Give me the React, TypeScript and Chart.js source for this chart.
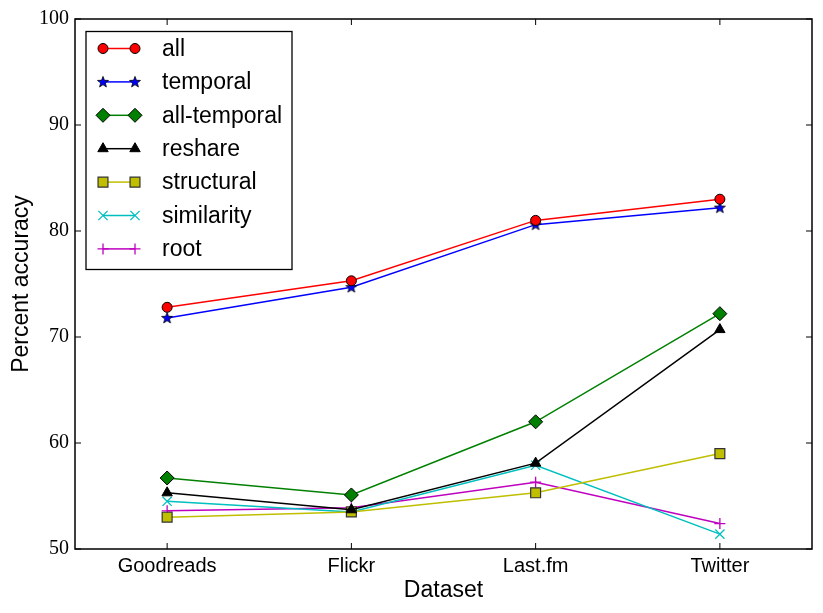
import React, { useEffect, useRef } from 'react'
import { Chart, registerables } from 'chart.js'
import { drawPoint } from 'chart.js/helpers'

Chart.register(...registerables)

// data
const datasetNames = ['Goodreads', 'Flickr', 'Last.fm', 'Twitter']
const allVals = [72.8, 75.3, 81.0, 83.0]
const temporalVals = [71.8, 74.7, 80.6, 82.2]
const allTemporalVals = [56.7, 55.1, 62.0, 72.2]
const reshareVals = [55.3, 53.7, 58.1, 70.7]
const structuralVals = [53.0, 53.5, 55.3, 59.0]
const similarityVals = [54.5, 53.5, 57.9, 51.4]
const rootVals = [53.6, 53.9, 56.3, 52.4]
const yTicks = [50, 60, 70, 80, 90, 100]

const SANS = '"Liberation Sans", Arial, sans-serif'
const SERIF = '"Liberation Serif", "DejaVu Serif", serif'

// matplotlib-like filled star marker
const makeStar = (fill: string) => {
  const c = document.createElement('canvas')
  c.width = 14
  c.height = 14
  const ctx = c.getContext('2d')!
  const cx = 7, cy = 7.3, R = 5.8, r = 2.4
  ctx.beginPath()
  for (let i = 0; i < 10; i++) {
    const rad = i % 2 === 0 ? R : r
    const a = -Math.PI / 2 + (i * Math.PI) / 5
    const px = cx + rad * Math.cos(a)
    const py = cy + rad * Math.sin(a)
    if (i === 0) ctx.moveTo(px, py)
    else ctx.lineTo(px, py)
  }
  ctx.closePath()
  ctx.fillStyle = fill
  ctx.fill()
  ctx.lineWidth = 0.8
  ctx.strokeStyle = '#000'
  ctx.stroke()
  return c
}

interface SeriesDef {
  label: string
  values: number[]
  color: string
  style: any
  radius: number
  edge: string
  edgeWidth: number
}

const buildSeries = (): SeriesDef[] => [
  { label: 'all', values: allVals, color: '#ff0000', style: 'circle', radius: 5, edge: '#000', edgeWidth: 1 },
  { label: 'temporal', values: temporalVals, color: '#0000ff', style: makeStar('#0000ff'), radius: 6, edge: '#000', edgeWidth: 1 },
  { label: 'all-temporal', values: allTemporalVals, color: '#008000', style: 'rectRot', radius: 7, edge: '#000', edgeWidth: 1 },
  { label: 'reshare', values: reshareVals, color: '#000000', style: 'triangle', radius: 6, edge: '#000', edgeWidth: 1 },
  { label: 'structural', values: structuralVals, color: '#bfbf00', style: 'rect', radius: 7, edge: '#333', edgeWidth: 1.2 },
  { label: 'similarity', values: similarityVals, color: '#00bfbf', style: 'crossRot', radius: 6.5, edge: '#00bfbf', edgeWidth: 1.3 },
  { label: 'root', values: rootVals, color: '#bf00bf', style: 'cross', radius: 5.5, edge: '#bf00bf', edgeWidth: 1.3 },
]

// frame with inward ticks on all four sides, plus the legend box
const framePlugin = (series: SeriesDef[]) => ({
  id: 'mplFrame',
  afterDatasetsDraw(chart: any) {
    const { ctx, chartArea: a, scales } = chart
    ctx.save()
    ctx.strokeStyle = '#000'
    ctx.lineWidth = 1.5
    ctx.strokeRect(a.left, a.top, a.right - a.left, a.bottom - a.top)
    ctx.lineWidth = 1
    ctx.beginPath()
    yTicks.forEach((v) => {
      const y = scales.y.getPixelForValue(v)
      ctx.moveTo(a.left, y)
      ctx.lineTo(a.left + 6, y)
      ctx.moveTo(a.right, y)
      ctx.lineTo(a.right - 6, y)
    })
    datasetNames.forEach((_, i) => {
      const x = scales.x.getPixelForValue(i)
      ctx.moveTo(x, a.bottom)
      ctx.lineTo(x, a.bottom - 6)
      ctx.moveTo(x, a.top)
      ctx.lineTo(x, a.top + 6)
    })
    ctx.stroke()

    // legend
    const bx = a.left + 11
    const by = a.top + 12.5
    const bw = 206
    const bh = 238
    ctx.fillStyle = '#fff'
    ctx.fillRect(bx, by, bw, bh)
    ctx.lineWidth = 1.3
    ctx.strokeStyle = '#000'
    ctx.strokeRect(bx, by, bw, bh)
    ctx.font = `23px ${SANS}`
    ctx.textBaseline = 'middle'
    series.forEach((s, i) => {
      const y = by + 17 + i * 33.4
      const x1 = bx + 17
      const x2 = bx + 49
      ctx.strokeStyle = s.color
      ctx.lineWidth = 1.5
      ctx.beginPath()
      ctx.moveTo(x1, y)
      ctx.lineTo(x2, y)
      ctx.stroke()
      ;[x1, x2].forEach((x) => {
        ctx.fillStyle = s.color
        ctx.strokeStyle = s.edge
        ctx.lineWidth = s.edgeWidth
        drawPoint(ctx, { pointStyle: s.style, rotation: 0, radius: s.radius, borderWidth: s.edgeWidth }, x, y)
      })
      ctx.fillStyle = '#000'
      ctx.fillText(s.label, bx + 76, y + 1)
    })
    ctx.restore()
  },
})

export default function App() {
  const canvasRef = useRef<HTMLCanvasElement>(null)

  useEffect(() => {
    document.body.style.margin = '0'
    if (!canvasRef.current) return
    const series = buildSeries()

    const chart = new Chart(canvasRef.current, {
      type: 'line',
      data: {
        datasets: series.map((s) => ({
          label: s.label,
          data: s.values.map((v, i) => ({ x: i, y: v })),
          borderColor: s.color,
          backgroundColor: s.color,
          borderWidth: 1.5,
          pointStyle: s.style,
          pointRadius: s.radius,
          pointBackgroundColor: s.color,
          pointBorderColor: s.edge,
          pointBorderWidth: s.edgeWidth,
          tension: 0,
          fill: false,
        })),
      },
      options: {
        animation: false,
        responsive: false,
        devicePixelRatio: 1,
        layout: { padding: { top: 19, right: 11, left: 0, bottom: 0 } },
        plugins: { legend: { display: false }, tooltip: { enabled: false } },
        scales: {
          x: {
            type: 'linear',
            min: -0.5,
            max: 3.5,
            grid: { display: false, drawTicks: false },
            border: { display: false },
            afterBuildTicks: (scale: any) => {
              scale.ticks = datasetNames.map((_, i) => ({ value: i }))
            },
            afterFit: (scale: any) => {
              scale.height = 64
            },
            ticks: {
              color: '#000',
              padding: 5,
              maxRotation: 0,
              autoSkip: false,
              font: { family: SANS, size: 20 },
              callback: (v: any) => datasetNames[v] ?? '',
            },
            title: {
              display: true,
              text: 'Dataset',
              color: '#000',
              padding: { top: 0, bottom: 9 },
              font: { family: SANS, size: 23 },
            },
          },
          y: {
            min: 50,
            max: 100,
            grid: { display: false, drawTicks: false },
            border: { display: false },
            afterBuildTicks: (scale: any) => {
              scale.ticks = yTicks.map((v) => ({ value: v }))
            },
            afterFit: (scale: any) => {
              scale.width = 75
            },
            ticks: {
              color: '#000',
              padding: 6,
              font: { family: SERIF, size: 20 },
            },
            title: {
              display: true,
              text: 'Percent accuracy',
              color: '#000',
              padding: { top: 8, bottom: 0 },
              font: { family: SANS, size: 23 },
            },
          },
        },
      },
      plugins: [framePlugin(series)],
    })

    return () => chart.destroy()
  }, [])

  return (
    <div style={{ width: 823, height: 613, background: '#fff' }}>
      <canvas ref={canvasRef} width={823} height={613} />
    </div>
  )
}
